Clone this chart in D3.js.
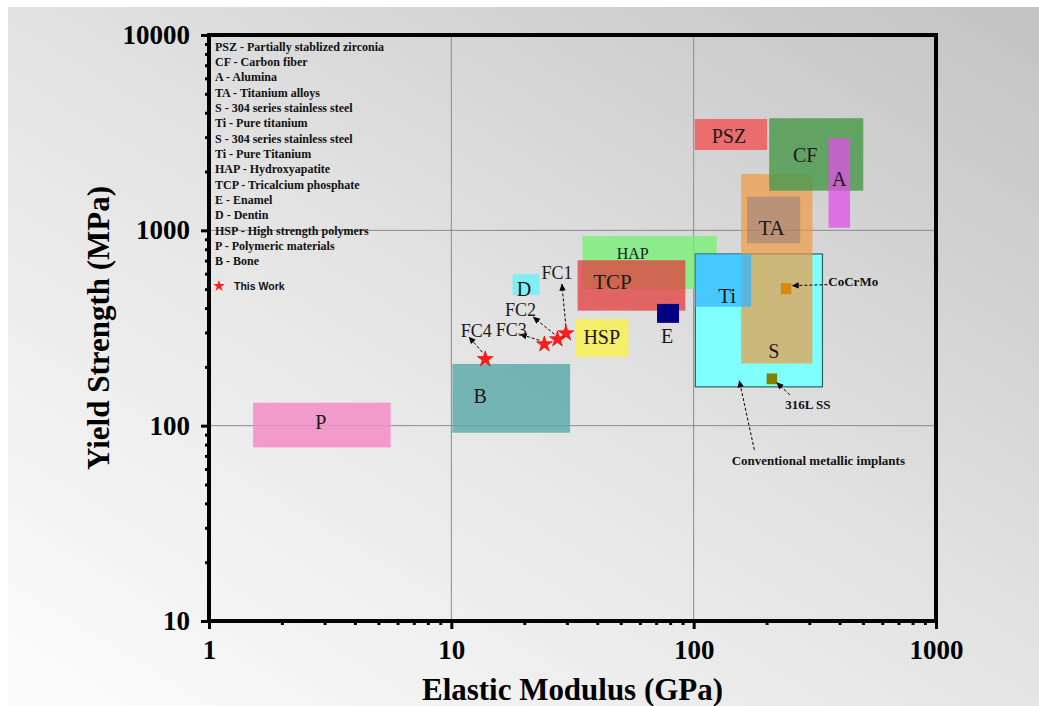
<!DOCTYPE html>
<html><head><meta charset="utf-8">
<script src="https://cdn.jsdelivr.net/npm/d3@7"></script>
<style>html,body{margin:0;padding:0;background:#fff;} svg{display:block;}</style>
</head><body>
<svg id="chart" width="1039" height="706"></svg>
<script>
// Property ranges of implant / tissue materials:
// elastic modulus (GPa) and yield strength (MPa)
const materials   = ["P", "B", "D", "HAP", "TCP", "HSP", "E", "Metal", "S", "TA", "Ti", "PSZ", "CF", "A"];
const boxLabels   = ["P", "B", "D", "HAP", "TCP", "HSP", "E", "", "S", "TA", "Ti", "PSZ", "CF", "A"];
const modulusMin  = [1.52, 10.1, 17.9, 34.8, 33.2, 32.4, 70.6, 101.6, 157, 166, 101.6, 101, 205, 360];
const modulusMax  = [5.62, 30.9, 23.1, 124.5, 92.4, 53.8, 87, 340, 309, 275, 172.5, 201, 501, 442];
const strengthMin = [77.4, 92, 466, 501, 388, 225, 336, 158, 208, 859, 406, 2577, 1596, 1032];
const strengthMax = [131, 207, 596, 935, 703, 351, 420, 757, 1942, 1486, 757, 3715, 3750, 2960];

// Samples of this work
const samples        = ["FC1", "FC2", "FC3", "FC4"];
const sampleModulus  = [29.7, 27.4, 24.2, 13.8];
const sampleStrength = [297, 277, 261, 219];

// Reference alloys
const alloys          = ["CoCrMo", "316L SS"];
const alloyModulusMin = [229, 200];
const alloyModulusMax = [253, 221];
const alloyStrengthMin = [471, 163];
const alloyStrengthMax = [537, 185];

// Axis ticks
const xTicks = [1, 10, 100, 1000];
const yTicks = [10, 100, 1000, 10000];
const xGrid = [10, 100];
const yGrid = [100, 1000];

const legendLines = [
  "PSZ - Partially stablized zirconia",
  "CF - Carbon fiber",
  "A - Alumina",
  "TA - Titanium alloys",
  "S - 304 series stainless steel",
  "Ti - Pure titanium",
  "S - 304 series stainless steel",
  "Ti - Pure Titanium",
  "HAP - Hydroxyapatite",
  "TCP - Tricalcium phosphate",
  "E - Enamel",
  "D - Dentin",
  "HSP - High strength polymers",
  "P - Polymeric materials",
  "B - Bone"
];

// ---- styles ----
const boxStyle = {
  P:     {fill: "#f48cc8", op: 0.85},
  B:     {fill: "#5aa8a8", op: 0.82},
  D:     {fill: "#70eef8", op: 0.85},
  HAP:   {fill: "#78f078", op: 0.8},
  TCP:   {fill: "#e43c3c", op: 0.76},
  HSP:   {fill: "#f8f050", op: 0.85},
  E:     {fill: "#000080", op: 1},
  Metal: {fill: "#80ffff", op: 1, stroke: "#2f5f5f"},
  S:     {fill: "#f2963c", op: 0.68},
  TA:    {fill: "#8a7a80", op: 0.5},
  Ti:    {fill: "#30b4ff", op: 0.72},
  PSZ:   {fill: "#f05a5a", op: 0.85},
  CF:    {fill: "#4f9a4f", op: 0.85},
  A:     {fill: "#e050e8", op: 0.75}
};
const labelStyle = {
  P: [-1, -3, 20], B: [-31, -2, 20], D: [-2, 4, 20], HAP: [-17, -9, 16],
  TCP: [-19, -3, 21], HSP: [0, -1, 20], E: [-1, 23, 20], S: [-3, 82, 20],
  TA: [-2, 8, 21], Ti: [4, 16, 21], PSZ: [-2, 1, 20], CF: [-11, 1, 20], A: [0, -4, 20]
};
const alloyColors = ["#d88a10", "#808000"];
const sampleLayout = {
  FC1: {label: [-9, -60], tail: [0, -7], tip: [-4, -49]},
  FC2: {label: [-37, -29], tail: [-3, -5], tip: [-24, -22]},
  FC3: {label: [-33, -14], tail: [-5, -4], tip: [-24, -10]},
  FC4: {label: [-9, -28], tail: [-3, -7], tip: [-16, -22]}
};

const serif = "'Liberation Serif','Times New Roman',serif";
const sans = "'Liberation Sans',Arial,sans-serif";

const svg = d3.select("#chart");
const W = 1039, H = 706;

// background
const defs = svg.append("defs");
const grad = defs.append("linearGradient").attr("id", "bg")
  .attr("x1", "1").attr("y1", "0").attr("x2", "0.1").attr("y2", "1");
grad.append("stop").attr("offset", "0").attr("stop-color", "#c3c3c3");
grad.append("stop").attr("offset", "0.5").attr("stop-color", "#e2e2e2");
grad.append("stop").attr("offset", "1").attr("stop-color", "#fafafa");
svg.append("rect").attr("width", W).attr("height", H).attr("fill", "#fff");
svg.append("rect").attr("x", 8).attr("y", 7).attr("width", W - 8).attr("height", H - 7).attr("fill", "url(#bg)");

defs.append("marker").attr("id", "arr")
  .attr("viewBox", "0 0 10 10").attr("refX", 9).attr("refY", 5)
  .attr("markerWidth", 9).attr("markerHeight", 7)
  .attr("markerUnits", "userSpaceOnUse").attr("orient", "auto")
  .append("path").attr("d", "M0,0.5 L10,5 L0,9.5 Z").attr("fill", "#000");

const plotLeft = 209, plotRight = 936, plotTop = 35, plotBottom = 621;
const x = d3.scaleLog().domain([1, 1000]).range([plotLeft, plotRight]);
const y = d3.scaleLog().domain([10, 10000]).range([plotBottom, plotTop]);

// grid
const grid = svg.append("g").attr("stroke", "#8a8a8a").attr("stroke-width", 1);
grid.selectAll(".gx").data(xGrid).join("line")
  .attr("x1", d => x(d)).attr("x2", d => x(d)).attr("y1", plotTop).attr("y2", plotBottom);
grid.selectAll(".gy").data(yGrid).join("line")
  .attr("y1", d => y(d)).attr("y2", d => y(d)).attr("x1", plotLeft).attr("x2", plotRight);

// material ranges
const boxes = materials.map((m, i) => ({
  name: m, label: boxLabels[i],
  x0: modulusMin[i], x1: modulusMax[i], y0: strengthMin[i], y1: strengthMax[i]
}));
svg.append("g").selectAll("rect").data(boxes).join("rect")
  .attr("x", d => x(d.x0)).attr("y", d => y(d.y1))
  .attr("width", d => x(d.x1) - x(d.x0)).attr("height", d => y(d.y0) - y(d.y1))
  .attr("fill", d => boxStyle[d.name].fill)
  .attr("fill-opacity", d => boxStyle[d.name].op)
  .attr("stroke", d => boxStyle[d.name].stroke || "none")
  .attr("stroke-width", 1.2);

const cx = d => (x(d.x0) + x(d.x1)) / 2;
const cy = d => (y(d.y0) + y(d.y1)) / 2;
svg.append("g").selectAll("text").data(boxes.filter(d => d.label)).join("text")
  .attr("x", d => cx(d) + labelStyle[d.name][0])
  .attr("y", d => cy(d) + labelStyle[d.name][1])
  .attr("font-size", d => labelStyle[d.name][2])
  .attr("font-family", serif).attr("fill", "#1a1a1a")
  .attr("text-anchor", "middle").attr("dominant-baseline", "central")
  .text(d => d.label);

// reference alloys
const alloyData = alloys.map((a, i) => ({
  name: a, x0: alloyModulusMin[i], x1: alloyModulusMax[i], y0: alloyStrengthMin[i], y1: alloyStrengthMax[i], c: alloyColors[i]
}));
svg.append("g").selectAll("rect").data(alloyData).join("rect")
  .attr("x", d => x(d.x0)).attr("y", d => y(d.y1))
  .attr("width", d => x(d.x1) - x(d.x0)).attr("height", d => y(d.y0) - y(d.y1))
  .attr("fill", d => d.c);

const ann = svg.append("g");
function arrow(x1, y1, x2, y2) {
  ann.append("line").attr("x1", x1).attr("y1", y1).attr("x2", x2).attr("y2", y2)
    .attr("stroke", "#000").attr("stroke-width", 1).attr("stroke-dasharray", "3,2")
    .attr("marker-end", "url(#arr)");
}
function note(tx, ty, str, anchor) {
  ann.append("text").attr("x", tx).attr("y", ty).attr("text-anchor", anchor)
    .attr("dominant-baseline", "central").attr("font-family", serif)
    .attr("font-weight", "bold").attr("font-size", 13).attr("fill", "#111").text(str);
}
{
  const d = alloyData[0];
  const rx = x(d.x1), my = cy(d);
  arrow(rx + 36, my - 4, rx + 1, my - 3);
  note(rx + 37, my - 7, d.name, "start");
}
{
  const d = alloyData[1];
  const mx = cx(d), my = cy(d);
  arrow(mx + 18, my + 16, mx + 5, my + 4);
  note(mx + 36, my + 26, d.name, "middle");
}
{
  const d = boxes[materials.indexOf("Metal")];
  const bx = x(d.x0), by = y(d.y0);
  arrow(bx + 59, by + 63, bx + 44, by - 6);
  note(bx + 123, by + 74, "Conventional metallic implants", "middle");
}

// samples of this work
const star = d3.symbol(d3.symbolStar, 78);
const sampleData = samples.map((s, i) => ({name: s, px: x(sampleModulus[i]), py: y(sampleStrength[i])}));
sampleData.forEach(d => {
  const L = sampleLayout[d.name];
  arrow(d.px + L.tail[0], d.py + L.tail[1], d.px + L.tip[0], d.py + L.tip[1]);
  ann.append("text").attr("x", d.px + L.label[0]).attr("y", d.py + L.label[1])
    .attr("text-anchor", "middle").attr("dominant-baseline", "central")
    .attr("font-family", serif).attr("font-size", 18).attr("fill", "#1a1a1a").text(d.name);
});
svg.append("g").selectAll("path").data(sampleData).join("path")
  .attr("d", star).attr("transform", d => `translate(${d.px},${d.py})`)
  .attr("fill", "#ff1c1c").attr("stroke", "#e00000").attr("stroke-width", 0.6);

// legend
const leg = svg.append("g").attr("font-family", serif).attr("font-weight", "bold")
  .attr("font-size", 12).attr("fill", "#111");
leg.selectAll("text").data(legendLines).join("text")
  .attr("x", 215).attr("y", (d, i) => 46.7 + i * 15.33)
  .attr("dominant-baseline", "central").text(d => d);
svg.append("path").attr("d", d3.symbol(d3.symbolStar, 42)())
  .attr("transform", "translate(219,286)").attr("fill", "#ff1c1c");
svg.append("text").attr("x", 234).attr("y", 286).attr("dominant-baseline", "central")
  .attr("font-family", sans).attr("font-weight", "bold").attr("font-size", 10.5)
  .attr("fill", "#111").text("This Work");

// axes
const minor = [];
for (let k = 0; k < 3; k++) for (let m = 2; m <= 9; m++) minor.push(m * Math.pow(10, k));
const minorY = minor.map(v => v * 10);

const fmt = d3.format("d");
function styleAxis(g) {
  g.select(".domain").remove();
  g.selectAll(".tick line").attr("stroke", "#000").attr("stroke-width", 3);
  g.selectAll(".tick text").attr("font-family", serif).attr("font-weight", "bold")
    .attr("font-size", 27).attr("fill", "#000");
}
svg.append("g").attr("transform", `translate(0,${plotBottom})`)
  .call(d3.axisBottom(x).tickValues(minor).tickSize(4).tickFormat(""))
  .call(styleAxis);
svg.append("g").attr("transform", `translate(${plotLeft},0)`)
  .call(d3.axisLeft(y).tickValues(minorY).tickSize(4).tickFormat(""))
  .call(styleAxis);
svg.append("g").attr("transform", `translate(0,${plotBottom})`)
  .call(d3.axisBottom(x).tickValues(xTicks).tickSize(8).tickPadding(11).tickFormat(fmt))
  .call(styleAxis);
svg.append("g").attr("transform", `translate(${plotLeft},0)`)
  .call(d3.axisLeft(y).tickValues(yTicks).tickSize(8).tickPadding(11).tickFormat(fmt))
  .call(styleAxis);

// frame
svg.append("rect").attr("x", plotLeft).attr("y", plotTop)
  .attr("width", plotRight - plotLeft).attr("height", plotBottom - plotTop)
  .attr("fill", "none").attr("stroke", "#000").attr("stroke-width", 4);

// titles
svg.append("text").attr("x", (plotLeft + plotRight) / 2).attr("y", 700)
  .attr("text-anchor", "middle").attr("font-family", serif).attr("font-weight", "bold")
  .attr("font-size", 32).attr("textLength", 301).attr("lengthAdjust", "spacingAndGlyphs")
  .attr("fill", "#000").text("Elastic Modulus (GPa)");
svg.append("text").attr("transform", "translate(109,328) rotate(-90)")
  .attr("text-anchor", "middle").attr("font-family", serif).attr("font-weight", "bold")
  .attr("font-size", 31).attr("fill", "#000").text("Yield Strength (MPa)");
</script>
</body></html>
